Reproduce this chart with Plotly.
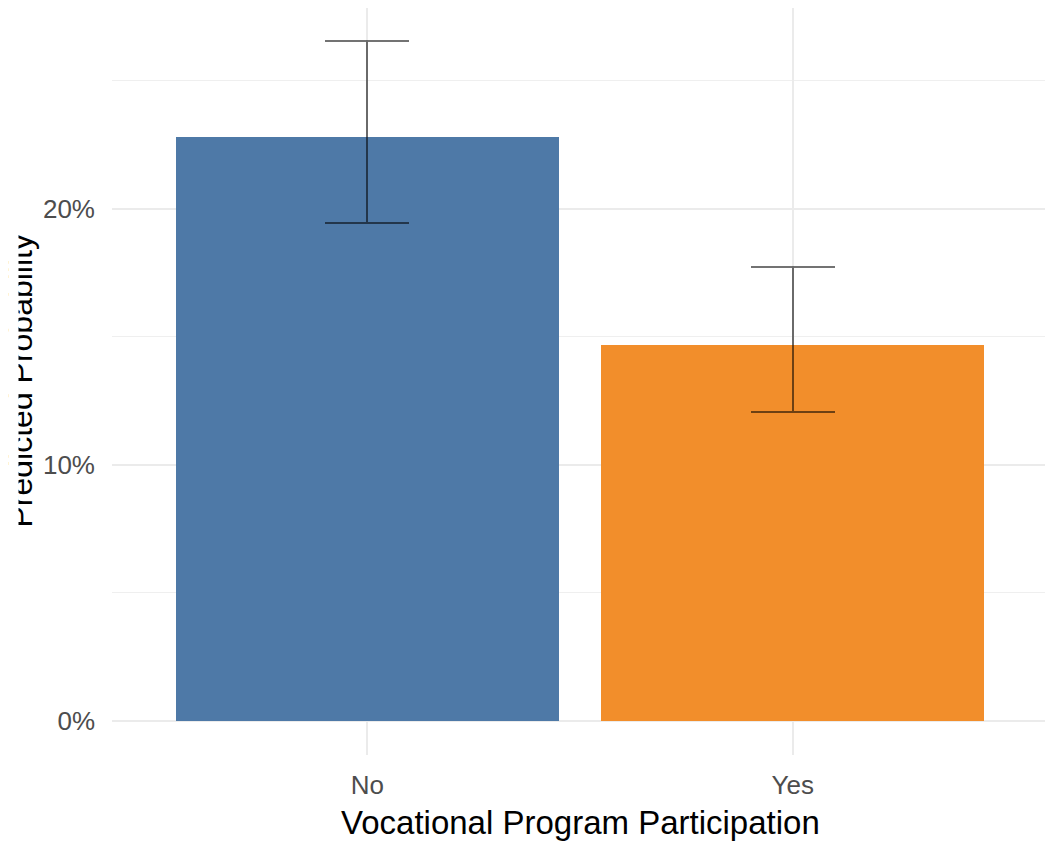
import plotly.graph_objects as go

# Data
categories = ["No", "Yes"]
predicted = [0.2282, 0.1469]
lower_ci = [0.1945, 0.1207]
upper_ci = [0.2656, 0.1773]
bar_colors = ["#4E79A7", "#F28E2B"]
y_ticks = [0, 0.1, 0.2]
y_minor_ticks = [0.05, 0.15, 0.25]
y_title = "Predicted Probability"
x_title = "Vocational Program Participation"

err_plus = [u - p for u, p in zip(upper_ci, predicted)]
err_minus = [p - l for p, l in zip(predicted, lower_ci)]

FONT = "Liberation Sans, Arial, sans-serif"
# the page body adds an 8px margin, so the figure is drawn 8px smaller
W, H = 1045, 833
ML, MR, MT, MB = 104, 5, 0, 86
plot_w = W - ML - MR
plot_h = H - MT - MB

fig = go.Figure()
fig.add_trace(go.Bar(
    x=categories,
    y=predicted,
    width=0.9,
    marker=dict(color=bar_colors, line=dict(width=0)),
    error_y=dict(
        type="data",
        symmetric=False,
        array=err_plus,
        arrayminus=err_minus,
        color="rgba(0,0,0,0.55)",
        thickness=2,
        width=42,
    ),
    showlegend=False,
))

fig.update_layout(
    width=W, height=H,
    margin=dict(l=ML, r=MR, t=MT, b=MB, pad=0, autoexpand=False),
    paper_bgcolor="white",
    plot_bgcolor="white",
    font=dict(family=FONT, color="#4D4D4D", size=26),
    bargap=0,
    xaxis=dict(
        range=[-0.6, 1.6],
        automargin=False,
        showgrid=True,
        gridcolor="#EBEBEB",
        gridwidth=1.5,
        zeroline=False,
        showline=False,
        ticks="",
        ticklabelstandoff=12,
        tickfont=dict(size=26, color="#4D4D4D"),
    ),
    yaxis=dict(
        range=[-0.01328, 0.2785],
        automargin=False,
        tickvals=y_ticks,
        tickformat=".0%",
        showgrid=True,
        gridcolor="#EBEBEB",
        gridwidth=1.5,
        zeroline=False,
        showline=False,
        ticks="",
        ticklabelstandoff=16,
        tickfont=dict(size=26, color="#4D4D4D"),
        minor=dict(tickvals=y_minor_ticks, showgrid=True,
                   gridcolor="#EFEFEF", gridwidth=1),
    ),
    annotations=[
        dict(
            text=x_title,
            xref="paper", yref="paper",
            x=0.5, y=-(814 - plot_h) / plot_h,
            xanchor="center", yanchor="middle",
            showarrow=False,
            font=dict(size=33, color="black", family=FONT),
        ),
        dict(
            text=y_title, textangle=-90,
            xref="paper", yref="paper",
            x=(12 - ML) / plot_w, y=0.5,
            xanchor="center", yanchor="middle",
            showarrow=False,
            font=dict(size=32, color="black", family=FONT),
        ),
        dict(
            text=" ", width=9, height=500, borderpad=0,
            bgcolor="white",
            xref="paper", yref="paper",
            x=(0 - ML) / plot_w, y=0.5,
            xanchor="left", yanchor="middle",
            showarrow=False,
        ),
    ],
)

fig.write_html("out.html")
